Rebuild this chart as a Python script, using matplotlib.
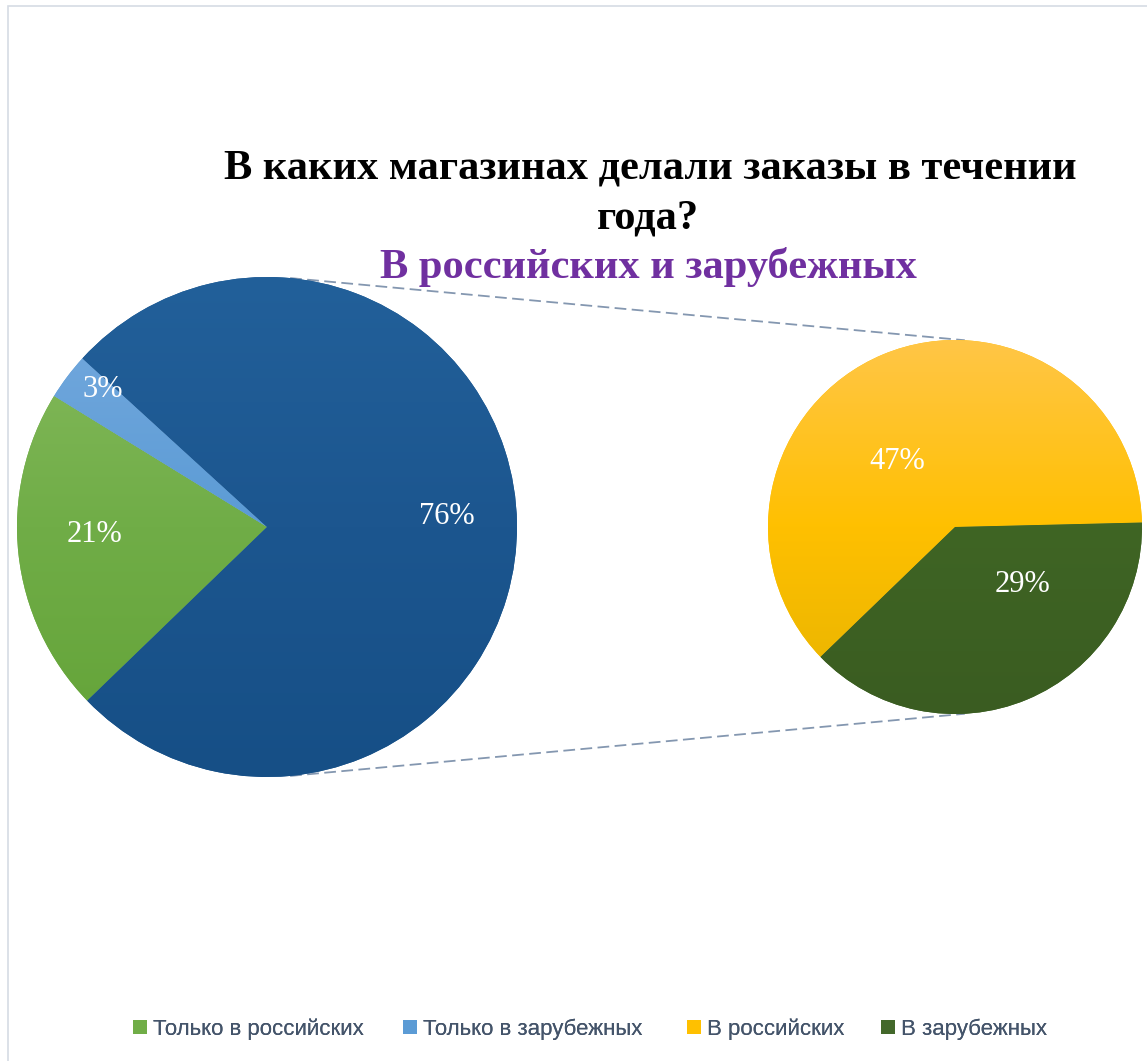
import numpy as np
import matplotlib.pyplot as plt
from matplotlib.patches import Patch, Rectangle
from matplotlib.colors import LinearSegmentedColormap

# data
main_labels = ['Только в российских', 'Только в зарубежных', 'Прочее']
main_values = [21, 3, 76]
sub_labels = ['В российских', 'В зарубежных']
sub_values = [47, 29]
legend_labels = ['Только в российских', 'Только в зарубежных', 'В российских', 'В зарубежных']
legend_colors = ['#70ad47', '#5b9bd5', '#ffc000', '#43682b']

title_line1 = 'В каких магазинах делали заказы в течении'
title_line2 = 'года?'
subtitle = 'В российских и зарубежных'

W, H = 1147, 1061
fig = plt.figure(figsize=(W / 100, H / 100), dpi=100)
ax = fig.add_axes([0, 0, 1, 1])

# geometry in pixels (y up)
left_c, left_r = (267, H - 527), 250
right_c, right_r = (955, H - 527), 187

# (top, middle, bottom) colours of the vertical gradients
main_grad = [('#88bc60', '#70ad47', '#62a236'),
             ('#78abdf', '#5b9bd5', '#4a8fd3'),
             ('#22609a', '#1c568f', '#164f86')]
sub_grad = [('#ffc647', '#ffc000', '#e6b300'),
            ('#466e2a', '#3f6524', '#3a5c21')]

# label offsets in radius units
main_lbl = [(-0.69, -0.03), (-0.655, 0.55), (0.72, 0.04)]
sub_lbl = [(-0.31, 0.35), (0.36, -0.31)]


def shade(wedges, grads, c, r):
    for w, g in zip(wedges, grads):
        w.set_facecolor(g[1])
        cmap = LinearSegmentedColormap.from_list('g', list(g))
        grad = np.linspace(0, 1, 256).reshape(-1, 1)
        im = ax.imshow(grad, cmap=cmap, origin='upper', aspect='auto',
                       extent=(c[0] - r, c[0] + r, c[1] - r, c[1] + r),
                       zorder=1.5, interpolation='bilinear')
        im.set_clip_path(w)


def put_labels(vals, offs, c, r):
    for v, (dx, dy) in zip(vals, offs):
        ax.text(c[0] + dx * r, c[1] + dy * r, f'{v}%', color='white',
                fontsize=22, family='Liberation Serif',
                ha='center', va='center', zorder=3)


wl, _ = ax.pie(main_values, center=left_c, radius=left_r, startangle=224,
               counterclock=False, frame=True, wedgeprops=dict(linewidth=0))
wr, _ = ax.pie(sub_values, center=right_c, radius=right_r, startangle=224,
               counterclock=False, frame=True, wedgeprops=dict(linewidth=0))
shade(wl, main_grad, left_c, left_r)
shade(wr, sub_grad, right_c, right_r)
put_labels(main_values, main_lbl, left_c, left_r)
put_labels(sub_values, sub_lbl, right_c, right_r)

# connector lines between the pies
for a1, a2 in [(84.7, 87), (-84.7, -87)]:
    p1 = (left_c[0] + left_r * np.cos(np.radians(a1)), left_c[1] + left_r * np.sin(np.radians(a1)))
    p2 = (right_c[0] + right_r * np.cos(np.radians(a2)), right_c[1] + right_r * np.sin(np.radians(a2)))
    ax.plot([p1[0], p2[0]], [p1[1], p2[1]], ls=(0, (6.5, 3)), color='#8497b0', lw=1.3, zorder=0.5)

# chart border
ax.add_patch(Rectangle((8, -10), W, H + 4, fill=False, edgecolor='#d6dce4', lw=1.2, zorder=0))

# titles
tkw = dict(fontsize=30.6, fontweight='bold', family='Liberation Serif', ha='center', va='center')
ax.text(650, H - 169, title_line1, color='black', **tkw)
ax.text(648, H - 219, title_line2, color='black', **tkw)
ax.text(648, H - 267, subtitle, color='#7030a0', **tkw)

ax.set_xlim(0, W)
ax.set_ylim(0, H)
ax.set_aspect('auto')
ax.axis('off')

# legend: one entry per position, like the Excel legend
legend_x = [133, 403, 687, 881]
for x, lab, col in zip(legend_x, legend_labels, legend_colors):
    leg = fig.legend([Patch(facecolor=col)], [lab], loc='center left',
                     bbox_to_anchor=(x / W, 1 - 1029 / H), frameon=False,
                     handlelength=0.62, handleheight=0.62, handletextpad=0.3,
                     borderpad=0, borderaxespad=0, labelcolor='#44546a',
                     prop=dict(family=['Liberation Sans Narrow', 'Liberation Sans'], size=16))
    fig.add_artist(leg)

fig.savefig('out.png', dpi=100)
